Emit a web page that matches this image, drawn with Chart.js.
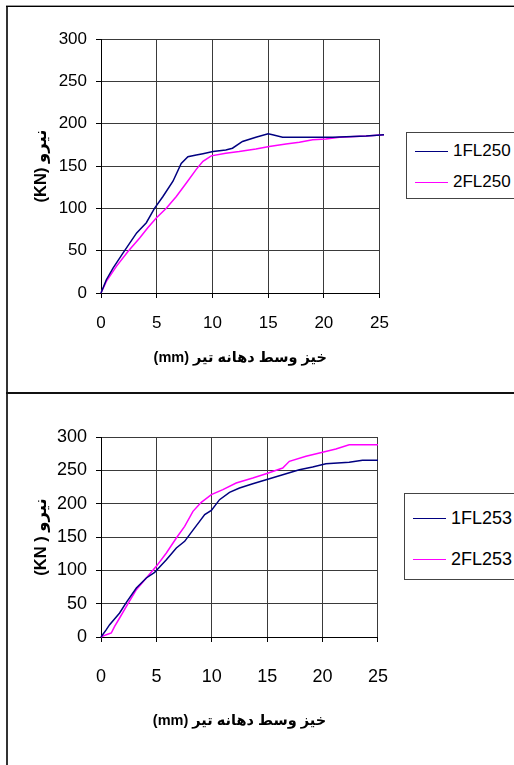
<!DOCTYPE html>
<html>
<head>
<meta charset="utf-8">
<script src="https://cdn.jsdelivr.net/npm/chart.js@4/dist/chart.umd.min.js"></script>
<style>
  html, body { margin: 0; padding: 0; background: #fff; }
  body { width: 514px; height: 765px; position: relative; overflow: hidden; font-family: "Liberation Sans", Arial, sans-serif; }
  .frame-left { position: absolute; left: 6px; top: 5px; width: 2px; height: 760px; background: #333; }
  .frame-top { position: absolute; left: 6px; top: 5px; width: 508px; height: 2px; background: #000; border-top: 1px solid #999; box-sizing: border-box; }
  .divider { position: absolute; left: 6px; top: 392px; width: 508px; height: 2px; background: #111; }
  .cv { position: absolute; left: 0; }
  .legend { position: absolute; border: 1px solid #444; background: #fff; width: 140px; box-sizing: border-box; }
  .legend .row { position: absolute; left: 0; height: 20px; }
  .legend .sw { position: absolute; left: 8px; width: 33px; height: 0; border-top: 1.5px solid; }
  .legend .lbl { position: absolute; left: 46px; white-space: nowrap; color: #000; }
</style>
</head>
<body>
<div class="frame-left"></div>
<div class="frame-top"></div>
<div class="divider"></div>

<div class="cv" style="top:0;width:404px;height:380px;"><canvas id="c1"></canvas></div>
<div class="cv" style="top:393px;width:412px;height:372px;"><canvas id="c2"></canvas></div>

<div class="legend" id="lg1" style="left:406px;top:132px;height:67px;"></div>
<div class="legend" id="lg2" style="left:404px;top:493px;height:87px;"></div>

<script>
/* ── Data ──────────────────────────────────────────────────────── */
const xTicks = [0, 5, 10, 15, 20, 25];
const yTicks = [0, 50, 100, 150, 200, 250, 300];

const topNames = ["1FL250", "2FL250"];
const botNames = ["1FL253", "2FL253"];

const fl250_1 = [[0,0],[0.48,15.7],[1.08,29.5],[1.97,47],[3.2,71],[4.07,83],[4.8,100],[5.56,114],
  [6.46,132],[7.2,153],[7.8,161],[8.55,163],[9.15,164.5],[10.05,167],[11.2,169],[11.8,171],
  [12.7,179],[13.9,184],[15,188],[15.4,187],[16.3,184],[17.8,184],[20.8,184],[23.8,185.5],[25.4,187]];
const fl250_2 = [[0,0],[0.48,13.8],[1.38,31.5],[2.42,49],[3.47,65],[4.2,77],[4.96,88.6],[5.86,100],
  [6.76,114],[7.66,130],[8.55,146],[9.15,155.5],[9.9,162],[11.2,165],[12.4,167],[13.9,170],
  [15.1,173],[16.6,176],[17.8,178],[19,181],[20.2,182],[21.4,184],[23.8,185.5],[25.4,187]];

const fl253_1 = [[0,0],[0.48,11],[0.78,18.5],[1.68,36],[2.29,52],[3.19,73.5],[4.09,88.5],[4.84,97],
  [5.29,105],[5.9,116],[6.8,133.5],[7.55,143.5],[8.15,157],[8.9,173.5],[9.36,183.5],[9.96,190],
  [10.7,206],[11.6,217],[12.5,223.5],[13.7,230],[14.9,236],[16.4,243.5],[17.9,251],[19.1,255],
  [20.3,260],[22.4,262],[23.6,265],[25,265]];
const fl253_2 = [[0,0],[0.48,3.5],[0.93,6],[1.23,16],[1.68,28.5],[2.29,46],[3.19,71],[4.09,88.5],
  [4.99,106],[5.9,126],[6.8,148.5],[7.55,166],[8.3,188.5],[9.05,202],[9.96,213.5],[11,221],
  [12.2,231],[13.7,238.5],[14.9,245],[16.4,253.5],[17,263.5],[18.5,271],[20,277],[21.2,282],
  [22.4,288.5],[25,288.5]];

const COLORS = ["#000080", "#ff00ff"];
const yTitle1 = "(KN) نیرو";
const yTitle2 = "(KN ) نیرو";
const xTitle = "(mm) خیز وسط دهانه تیر";

/* ── Chart builder ─────────────────────────────────────────────── */
function makeChart(id, names, series, o) {
  const ds = series.map((pts, i) => ({
    label: names[i],
    data: pts.map(p => ({ x: p[0], y: p[1] })),
    borderColor: COLORS[i],
    borderWidth: 1.5,
    pointRadius: 0,
    tension: 0,
    clip: false
  }));
  const fam = "'Liberation Sans', 'DejaVu Sans', Arial";
  return new Chart(document.getElementById(id), {
    type: "line",
    data: { datasets: ds },
    options: {
      responsive: true,
      maintainAspectRatio: false,
      animation: false,
      layout: { padding: { left: 0, right: 4, top: o.padTop, bottom: 0 } },
      plugins: { legend: { display: false }, tooltip: { enabled: false } },
      scales: {
        x: {
          type: "linear",
          min: xTicks[0], max: xTicks[xTicks.length - 1],
          afterBuildTicks: s => { s.ticks = xTicks.map(v => ({ value: v })); },
          afterFit: s => { s.height = o.xHeight; },
          border: { color: "#000", width: 1 },
          grid: { color: "#3a3a3a", lineWidth: 1, tickLength: 5, tickColor: "#000" },
          ticks: { color: "#000", font: o.tickFont, padding: o.xTickPad, maxRotation: 0 },
          title: { display: true, text: xTitle, color: "#000",
                   font: { family: fam, size: 14.5, weight: "bold" },
                   padding: { top: 0, bottom: o.xTitlePad } }
        },
        y: {
          min: yTicks[0], max: yTicks[yTicks.length - 1],
          afterBuildTicks: s => { s.ticks = yTicks.map(v => ({ value: v })); },
          afterFit: s => { s.width = 101; },
          border: { color: "#000", width: 1 },
          grid: { color: "#3a3a3a", lineWidth: 1, tickLength: 5, tickColor: "#000" },
          ticks: { color: "#000", font: o.tickFont, padding: 9 },
          title: { display: true, text: o.yTitle, color: "#000",
                   font: { family: fam, size: 16.5, weight: "bold" },
                   padding: { top: 32, bottom: 0 } }
        }
      }
    }
  });
}

makeChart("c1", topNames, [fl250_1, fl250_2], {
  padTop: 39, xHeight: 87, xTickPad: 15, xTitlePad: 13,
  tickFont: { family: "'Liberation Sans', Arial", size: 17 }, yTitle: yTitle1
});
makeChart("c2", botNames, [fl253_1, fl253_2], {
  padTop: 44, xHeight: 128, xTickPad: 24, xTitlePad: 35,
  tickFont: { family: "'Liberation Sans', Arial", size: 18 }, yTitle: yTitle2
});

/* ── HTML legends ──────────────────────────────────────────────── */
function legend(id, names, rows, font) {
  const el = document.getElementById(id);
  el.innerHTML = names.map((n, i) => `
    <div class="row" style="top:${rows[i] - 10}px;width:100%;">
      <div class="sw" style="top:10px;border-color:${COLORS[i]};"></div>
      <div class="lbl" style="top:${10 - font.lh / 2}px;font:${font.css};line-height:${font.lh}px;">${n}</div>
    </div>`).join("");
}
legend("lg1", topNames, [18, 49], { css: "17px 'Liberation Sans', Arial", lh: 20 });
legend("lg2", botNames, [24, 65], { css: "18px 'Liberation Sans', Arial", lh: 22 });
</script>
</body>
</html>
